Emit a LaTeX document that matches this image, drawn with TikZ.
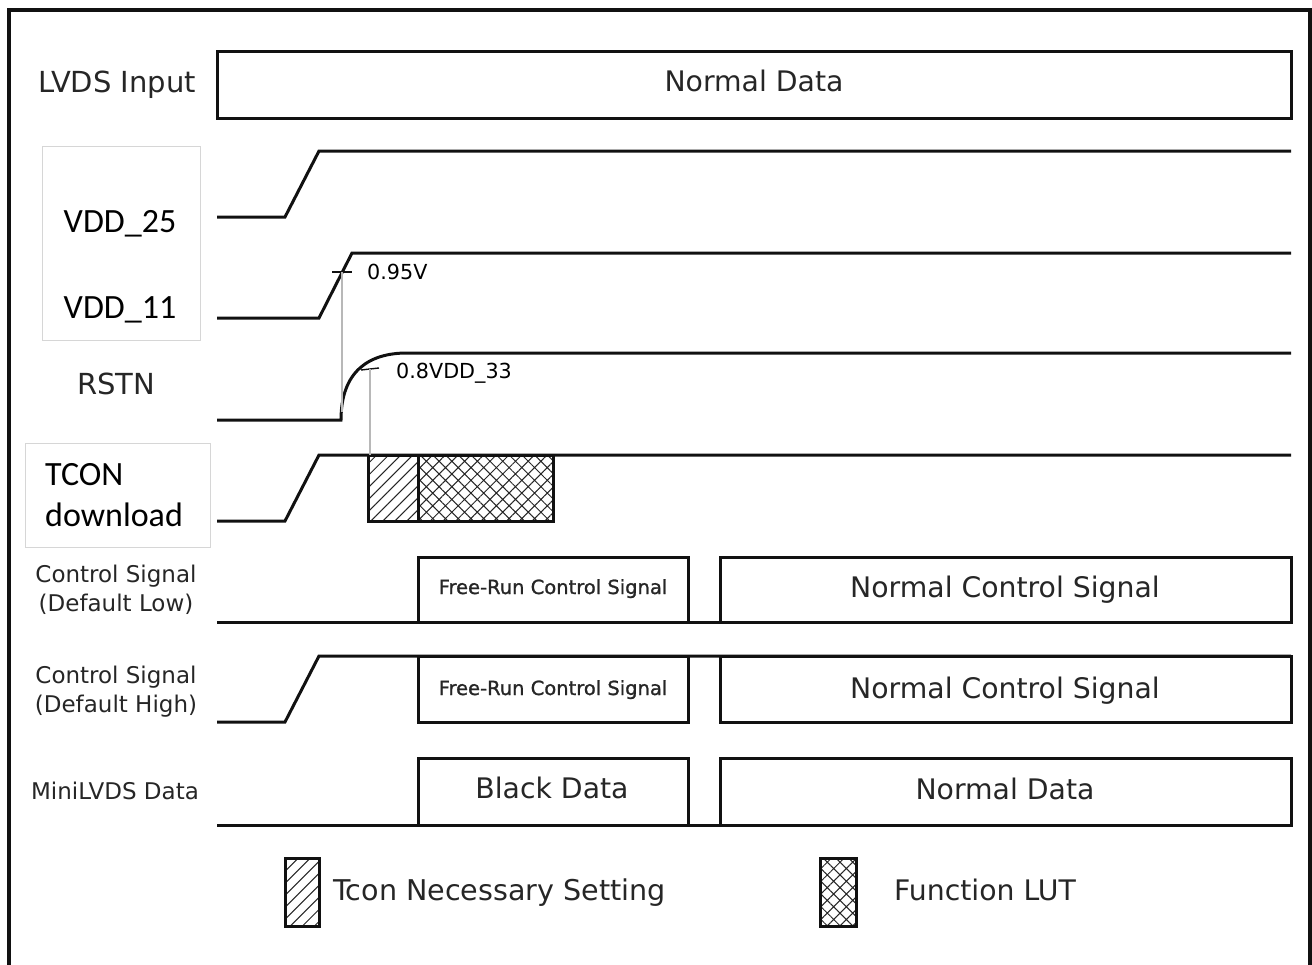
\documentclass[tikz,border=0pt]{standalone}
\usepackage{fontspec}
\setmainfont{DejaVu Sans}
\newfontfamily\califont{Carlito}
\newfontfamily\semifont[FakeBold=1.2]{DejaVu Sans}
\usepackage{tikz}
\usetikzlibrary{patterns.meta}
\definecolor{trace}{HTML}{111111}
\definecolor{inkgray}{HTML}{262626}
\definecolor{framegray}{HTML}{D6D6D6}
\definecolor{guidegray}{HTML}{B8B8B8}
\tikzset{
  sigline/.style={
    draw=trace, line width=3pt, line join=miter
  },
  outerframe/.style={
    draw=trace, line width=3.5pt
  },
  labelframe/.style={
    draw=framegray, line width=1pt
  },
  guideline/.style={
    draw=guidegray, line width=1.4pt
  },
  necfill/.style={
    pattern={Lines[angle=45,distance=8.5pt,line width=1pt]}, pattern color=inkgray
  },
  lutfill/.style={
    pattern={Hatch[angle=45,distance=9pt,line width=1pt]}, pattern color=inkgray
  },
  rowlabel/.style={
    font=\fontsize{29}{31}\selectfont, text=inkgray, inner sep=0pt, anchor=base
  },
  sublabel/.style={
    font=\fontsize{23}{25}\selectfont, text=inkgray, inner sep=0pt, anchor=base
  },
  vddlabel/.style={
    font=\califont\fontsize{34}{36}\selectfont, text=black, inner sep=0pt, anchor=base
  },
  boxtext/.style={
    font=\fontsize{28.3}{30}\selectfont, text=inkgray, inner sep=0pt, anchor=base
  },
  freetext/.style={
    font=\semifont\fontsize{19.5}{21}\selectfont, text=inkgray, inner sep=0pt, anchor=base
  },
  levellabel/.style={
    font=\fontsize{20.7}{22}\selectfont, text=black, inner sep=0pt, anchor=base west
  },
}

\begin{document}
\begin{tikzpicture}[x=1pt, y=-1pt]
  \useasboundingbox (0,0) rectangle (1312,964);
  % Outer frame
  \draw[outerframe] (9,970) -- (9,10) -- (1310,10) -- (1310,970);

  % LVDS input
  \node[rowlabel] (lvdslbl) at (117,92) {LVDS Input};
  \draw[sigline] (217,51) rectangle (1291,118);
  \node[boxtext] (lvdsdata) at (754,91) {Normal Data};

  % Supplies
  \draw[labelframe] (42,146) rectangle (200,340);
  \node[vddlabel] (vdd25lbl) at (120,232) {VDD\_25};
  \node[vddlabel] (vdd11lbl) at (120,318) {VDD\_11};
  \draw[sigline] (217,217) -- (285,217) -- (319,151) -- (1291,151);
  \draw[sigline] (217,318) -- (319,318) -- (352,253) -- (1291,253);
  \coordinate (tick95) at (342,272);
  \draw[line width=1.4pt, trace] (332,272) -- (352,272);
  \node[levellabel] (lbl95) at (367,279) {0.95V};

  % RSTN
  \node[rowlabel] (rstnlbl) at (116,394) {RSTN};
  \draw[sigline] (217,420) -- (341,420)
    .. controls (341,372) and (368,353) .. (407,353) -- (1291,353);
  \coordinate (rstnfoot) at (342,412);
  \coordinate (tick08) at (370,369);
  \draw[line width=1.4pt, trace] (361,370) -- (379,368);
  \node[levellabel] (lbl08) at (396,378) {0.8VDD\_33};

  % TCON download
  \draw[labelframe] (25,443) rectangle (210,547);
  \node[vddlabel, anchor=base west] (tconlbl) at (45,485) {TCON};
  \node[vddlabel, anchor=base west] (dllbl) at (45,526) {download};
  \draw[sigline] (217,521) -- (285,521) -- (319,455) -- (1291,455);
  \coordinate (tcontop) at (370,455);
  \draw[sigline, necfill] (368,455) rectangle (418,521);
  \draw[sigline, lutfill] (418,455) rectangle (553,521);

  % Threshold guides
  \draw[guideline] (tick95) -- (rstnfoot);
  \draw[guideline] (tick08) -- (tcontop);

  % Control signal, default low
  \node[sublabel] (ctllowa) at (116,582) {Control Signal};
  \node[sublabel] (ctllowb) at (116,611) {(Default Low)};
  \draw[sigline] (217,622) -- (1291,622);
  \draw[sigline] (418,557) rectangle (688,622);
  \draw[sigline] (720,557) rectangle (1291,622);
  \node[freetext] (frlow) at (553,594) {Free-Run Control Signal};
  \node[boxtext] (nclow) at (1005,597) {Normal Control Signal};

  % Control signal, default high
  \node[sublabel] (ctlhigha) at (116,683) {Control Signal};
  \node[sublabel] (ctlhighb) at (116,712) {(Default High)};
  \draw[sigline] (217,722) -- (285,722) -- (319,656) -- (1291,656);
  \draw[sigline] (418,656) rectangle (688,722);
  \draw[sigline] (720,656) rectangle (1291,722);
  \node[freetext] (frhigh) at (553,695) {Free-Run Control Signal};
  \node[boxtext] (nchigh) at (1005,698) {Normal Control Signal};

  % MiniLVDS data
  \node[sublabel] (minilbl) at (115,799) {MiniLVDS Data};
  \draw[sigline] (217,825) -- (1291,825);
  \draw[sigline] (418,758) rectangle (688,825);
  \draw[sigline] (720,758) rectangle (1291,825);
  \node[boxtext] (blackdata) at (552,798) {Black Data};
  \node[boxtext] (minidata) at (1005,799) {Normal Data};

  % Legend
  \draw[sigline, necfill] (285,858) rectangle (319,926);
  \node[boxtext, font=\fontsize{28.6}{30}\selectfont, anchor=base west] (neclbl) at (333,900) {Tcon Necessary Setting};
  \draw[sigline, lutfill] (820,858) rectangle (856,926);
  \node[boxtext, anchor=base west] (lutlbl) at (894,900) {Function LUT};
\end{tikzpicture}
\end{document}
